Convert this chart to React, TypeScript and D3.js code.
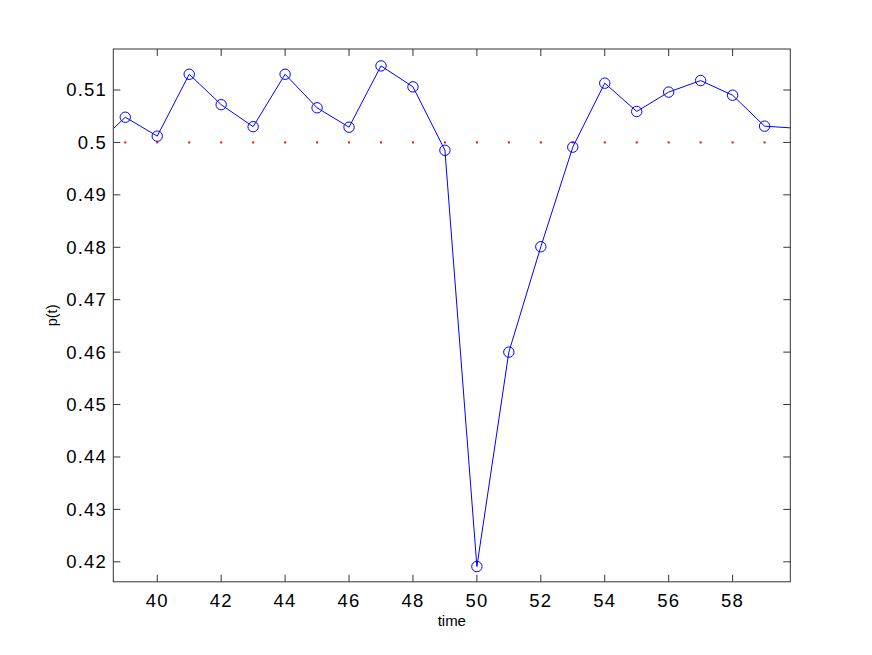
import React from "react";
import * as d3 from "d3";

const times = [38, 39, 40, 41, 42, 43, 44, 45, 46, 47, 48, 49, 50, 51, 52, 53, 54, 55, 56, 57, 58, 59, 60];
const values = [0.499, 0.5048, 0.5012, 0.513, 0.5072, 0.503, 0.513, 0.5066, 0.5029, 0.5146, 0.5106, 0.4985, 0.4191, 0.46, 0.4801, 0.4991, 0.5113, 0.5059, 0.5096, 0.5118, 0.509, 0.5031, 0.5027];
const refTimes = [39, 40, 41, 42, 43, 44, 45, 46, 47, 48, 49, 50, 51, 52, 53, 54, 55, 56, 57, 58, 59];
const refValue = 0.5;
const xTicks = [40, 42, 44, 46, 48, 50, 52, 54, 56, 58];
const yTicks = [0.42, 0.43, 0.44, 0.45, 0.46, 0.47, 0.48, 0.49, 0.5, 0.51];
const xDomain = [38.625, 59.805];
const yDomain = [0.41619, 0.517818];

const W = 872;
const H = 655;
const L = 113.3, R = 790.3, T = 49, B = 581.8;

export default function App() {
  const x = d3.scaleLinear().domain(xDomain).range([L, R]);
  const y = d3.scaleLinear().domain(yDomain).range([B, T]);
  const line = d3.line<number>().x((_, i) => x(times[i])).y((d) => y(d));
  const pts = times.map((t, i) => ({ t, v: values[i] })).filter((p) => p.t >= xDomain[0] && p.t <= xDomain[1]);
  const font = "Liberation Sans, Arial, Helvetica, sans-serif";
  const tl = 7;
  const axisColor = "#333";
  return (
    <div style={{ position: "absolute", left: 0, top: 0 }}>
      <svg width={W} height={H} style={{ display: "block", background: "#fff" }}>
        <defs>
          <clipPath id="plotclip">
            <rect x={L} y={T} width={R - L} height={B - T} />
          </clipPath>
        </defs>
        <rect x={0} y={0} width={W} height={H} fill="#fff" />
        <g clipPath="url(#plotclip)">
          {refTimes.map((t) => (
            <rect key={"r" + t} x={x(t) - 1} y={y(refValue) - 1} width={2} height={2} fill="#ff0000" />
          ))}
          <path d={line(values) || ""} fill="none" stroke="#0000ff" strokeWidth={1} />
          {pts.map((p) => (
            <circle key={"c" + p.t} cx={x(p.t)} cy={y(p.v)} r={5.2} fill="none" stroke="#0000ff" strokeWidth={1} />
          ))}
        </g>
        <rect x={L} y={T} width={R - L} height={B - T} fill="none" stroke={axisColor} strokeWidth={1} />
        {xTicks.map((t) => (
          <g key={"xt" + t}>
            <line x1={x(t)} x2={x(t)} y1={B} y2={B - tl} stroke={axisColor} strokeWidth={1} />
            <line x1={x(t)} x2={x(t)} y1={T} y2={T + tl} stroke={axisColor} strokeWidth={1} />
            <text x={x(t)} y={606.5} textAnchor="middle" fontFamily={font} fontSize={18.5} letterSpacing={1.2} fill="#000">
              {t}
            </text>
          </g>
        ))}
        {yTicks.map((v) => (
          <g key={"yt" + v}>
            <line x1={L} x2={L + tl} y1={y(v)} y2={y(v)} stroke={axisColor} strokeWidth={1} />
            <line x1={R} x2={R - tl} y1={y(v)} y2={y(v)} stroke={axisColor} strokeWidth={1} />
            <text x={107} y={y(v) + 6.5} textAnchor="end" fontFamily={font} fontSize={18.5} letterSpacing={1.2} fill="#000">
              {d3.format("~g")(v)}
            </text>
          </g>
        ))}
        <text x={(L + R) / 2} y={626} textAnchor="middle" fontFamily={font} fontSize={15} fill="#000">
          time
        </text>
        <text
          transform={`translate(56.5, ${(T + B) / 2}) rotate(-90)`}
          textAnchor="middle"
          fontFamily={font}
          fontSize={14.5}
          fill="#000"
        >
          p(t)
        </text>
      </svg>
    </div>
  );
}
